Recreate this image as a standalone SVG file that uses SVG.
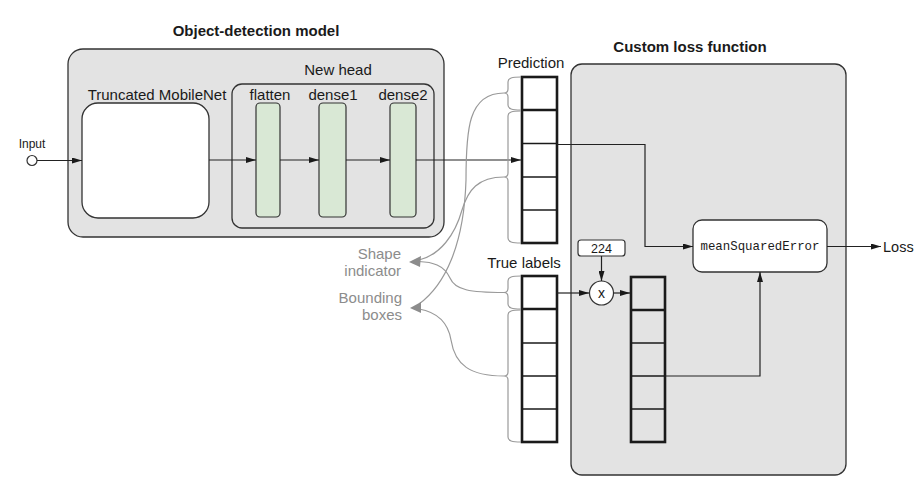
<svg xmlns="http://www.w3.org/2000/svg" width="924" height="490" viewBox="0 0 924 490">
<defs>
<style>
text{font-family:"Liberation Sans",Arial,sans-serif;fill:#1a1a1a}
.title{font-size:15px;font-weight:bold;text-anchor:middle}
.lbl{font-size:15px;text-anchor:middle}
.gray{font-size:15px;text-anchor:end;fill:#8c8c8c}
.panel{fill:#e3e3e3;stroke:#333;stroke-width:1.3}
.white{fill:#fff;stroke:#333;stroke-width:1.3}
.green{fill:#d9e8d5;stroke:#333;stroke-width:1.2}
.conn{fill:none;stroke:#222;stroke-width:1.2}
.curve{fill:none;stroke:#999;stroke-width:1.2}
.brace{fill:none;stroke:#9a9a9a;stroke-width:1.2}
.ghead{fill:#8c8c8c}
.colw{fill:#fff;stroke:none}
.outer{fill:none;stroke:#1a1a1a;stroke-width:2.6}
.cell{stroke:#1a1a1a;stroke-width:1.3}
.sep{stroke:#1a1a1a;stroke-width:2.6}
</style>
<marker id="ah" viewBox="0 0 10 6" refX="10" refY="3" markerWidth="10" markerHeight="6" markerUnits="userSpaceOnUse" orient="auto">
<path d="M0,0 L10,3 L0,6 z" fill="#1a1a1a"/>
</marker>
</defs>

<g id="object-detection-model">
<text class="title" x="256" y="36">Object-detection model</text>
<rect class="panel" x="68" y="49" width="376" height="188" rx="15"/>
</g>
<g id="truncated-mobilenet">
<text class="lbl" x="157" y="100">Truncated MobileNet</text>
<rect class="white" x="82" y="103" width="127" height="115" rx="16"/>
</g>
<g id="new-head">
<text class="lbl" x="338" y="75">New head</text>
<rect x="232" y="84" width="202" height="144" rx="10" fill="none" stroke="#333" stroke-width="1.3"/>
</g>
<g id="flatten">
<text class="lbl" x="270" y="100">flatten</text>
<rect class="green" x="256" y="103" width="24" height="114" rx="4"/>
</g>
<g id="dense1">
<text class="lbl" x="333" y="100">dense1</text>
<rect class="green" x="319" y="103" width="27" height="114" rx="4"/>
</g>
<g id="dense2">
<text class="lbl" x="403" y="100">dense2</text>
<rect class="green" x="390" y="103" width="26" height="114" rx="4"/>
</g>

<g id="input">
<text x="32" y="148" font-size="12" text-anchor="middle">Input</text>
<circle cx="32" cy="160.5" r="5" fill="#fff" stroke="#333" stroke-width="1.2"/>
</g>

<g id="custom-loss-function">
<text class="title" x="690" y="52">Custom loss function</text>
<rect class="panel" x="571" y="64" width="275" height="411" rx="11"/>
</g>

<g id="prediction">
<text class="lbl" x="531" y="68">Prediction</text>
<rect class="colw" x="522" y="77" width="35" height="166"/>
<line class="cell" x1="522" y1="143.5" x2="557" y2="143.5"/>
<line class="cell" x1="522" y1="177" x2="557" y2="177"/>
<line class="cell" x1="522" y1="210" x2="557" y2="210"/>
<line class="sep" x1="522" y1="110" x2="557" y2="110"/>
<rect class="outer" x="522" y="77" width="35" height="166"/>
</g>

<g id="true-labels">
<text class="lbl" x="524" y="268">True labels</text>
<rect class="colw" x="522" y="276" width="35" height="166"/>
<line class="cell" x1="522" y1="343" x2="557" y2="343"/>
<line class="cell" x1="522" y1="376" x2="557" y2="376"/>
<line class="cell" x1="522" y1="409" x2="557" y2="409"/>
<line class="sep" x1="522" y1="309" x2="557" y2="309"/>
<rect class="outer" x="522" y="276" width="35" height="166"/>
</g>

<g id="scaled-labels">
<line class="cell" x1="631" y1="343" x2="665" y2="343"/>
<line class="cell" x1="631" y1="376" x2="665" y2="376"/>
<line class="cell" x1="631" y1="409" x2="665" y2="409"/>
<line class="sep" x1="631" y1="310" x2="665" y2="310"/>
<rect class="outer" x="631" y="277" width="34" height="165"/>
</g>

<g id="const-224">
<rect x="578" y="240" width="47" height="16" rx="3" fill="#fff" stroke="#333" stroke-width="1.2"/>
<text x="601.5" y="253" font-size="12.5" text-anchor="middle">224</text>
</g>

<g id="multiply">
<circle cx="601.5" cy="293" r="12" fill="#fff" stroke="#333" stroke-width="1.2"/>
<text x="601.5" y="298" font-size="14" text-anchor="middle">x</text>
</g>

<g id="mean-squared-error">
<rect class="white" x="693" y="220" width="134" height="52" rx="9"/>
<text x="760" y="250" font-size="12.4" text-anchor="middle" style="font-family:'Liberation Mono','Courier New',monospace">meanSquaredError</text>
</g>

<g id="loss">
<text x="883" y="252" font-size="14.5">Loss</text>
</g>

<g id="shape-indicator">
<text class="gray" x="401" y="259">Shape</text>
<text class="gray" x="401" y="276">indicator</text>
</g>
<g id="bounding-boxes">
<text class="gray" x="402" y="303">Bounding</text>
<text class="gray" x="402" y="320">boxes</text>
</g>

<g id="connectors">
<line class="conn" x1="37" y1="160.5" x2="82" y2="160.5" marker-end="url(#ah)"/>
<line class="conn" x1="209" y1="160" x2="256" y2="160" marker-end="url(#ah)"/>
<line class="conn" x1="280" y1="160" x2="319" y2="160" marker-end="url(#ah)"/>
<line class="conn" x1="346" y1="160" x2="390" y2="160" marker-end="url(#ah)"/>
<line class="conn" x1="416" y1="160" x2="521" y2="160" marker-end="url(#ah)"/>
<polyline class="conn" points="557,144.5 645,144.5 645,246.5 693,246.5" marker-end="url(#ah)"/>
<line class="conn" x1="827" y1="246.5" x2="881" y2="246.5" marker-end="url(#ah)"/>
<line class="conn" x1="557" y1="293" x2="589" y2="293" marker-end="url(#ah)"/>
<line class="conn" x1="613.5" y1="293" x2="630" y2="293" marker-end="url(#ah)"/>
<line class="conn" x1="601.5" y1="256" x2="601.5" y2="281" marker-end="url(#ah)"/>
<polyline class="conn" points="665,376 760,376 760,272" marker-end="url(#ah)"/>

<path class="brace" d="M521,77 C512,77 508,78 508,82 L508,89 Q508,93 504,93 Q508,93 508,97 L508,105 C508,109 512,110 521,110"/>
<path class="brace" d="M521,111 C512,111 508,112 508,116 L508,173 Q508,177 504,177 Q508,177 508,181 L508,238 C508,242 512,243 521,243"/>
<path class="brace" d="M521,276 C512,276 508,277 508,281 L508,288 Q508,292.5 504,292.5 Q508,292.5 508,297 L508,304 C508,308 512,309 521,309"/>
<path class="brace" d="M521,310 C512,310 508,311 508,315 L508,372 Q508,376 504,376 Q508,376 508,380 L508,437 C508,441 512,442 521,442"/>

<path class="curve" d="M504,93 C468,93 466,130 466,180 C464,245 445,285 419,304"/>
<path class="curve" d="M504,177 C478,177 468,190 462,210 C455,235 440,255 419,260"/>
<path class="curve" d="M504,292.5 C470,292.5 455,290 450,278 C444,265 432,262 419,261.5"/>
<path class="curve" d="M504,376 C470,376 455,365 451,340 C448,322 436,312 419,309"/>
<polygon class="ghead" points="409,262 421,256 420,267"/>
<polygon class="ghead" points="410,308 421,302 421,313"/>
</g>
</svg>
